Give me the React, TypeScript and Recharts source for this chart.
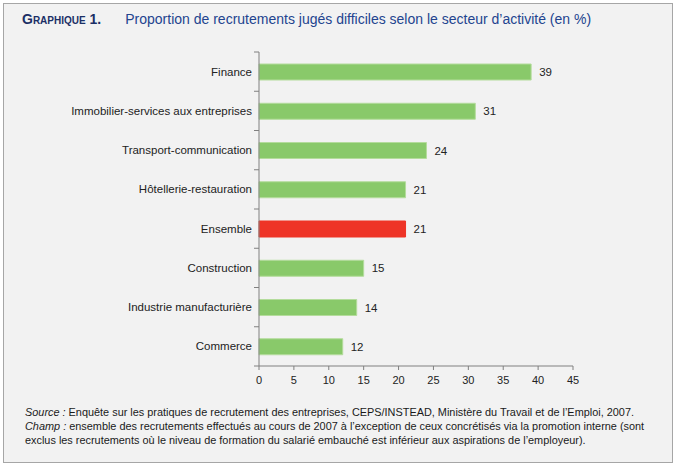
import { BarChart, Bar, XAxis, YAxis, Cell, LabelList } from "recharts";

const categories = [
  "Finance",
  "Immobilier-services aux entreprises",
  "Transport-communication",
  "Hôtellerie-restauration",
  "Ensemble",
  "Construction",
  "Industrie manufacturière",
  "Commerce",
];
const values = [39, 31, 24, 21, 21, 15, 14, 12];
const highlighted = "Ensemble";
const xTicks = [0, 5, 10, 15, 20, 25, 30, 35, 40, 45];

const data = categories.map((c, i) => ({ secteur: c, part: values[i] }));

const FONT = "'Liberation Sans', Arial, sans-serif";
const AXIS = "#808080";
const TICK_GAP = 7; // tickSize + tickMargin of the category axis

// category label, plus small tick marks on the band edges (not at the band centre)
function SecteurTick(props: any) {
  const { x, y, payload, index, visibleTicksCount } = props;
  const half = payload.offset || 0;
  const ax = x + TICK_GAP;
  const isLast = index === visibleTicksCount - 1;
  return (
    <g>
      <text
        x={x}
        y={y}
        dy="0.355em"
        textAnchor="end"
        fill="#222"
        fontSize={11.5}
        fontFamily={FONT}
      >
        {payload.value}
      </text>
      <line x1={ax - 5} x2={ax} y1={y - half} y2={y - half} stroke={AXIS} />
      {isLast && <line x1={ax - 5} x2={ax} y1={y + half} y2={y + half} stroke={AXIS} />}
    </g>
  );
}

export default function App() {
  return (
    <div
      style={{
        position: "absolute",
        left: 0,
        top: 0,
        width: 675,
        height: 465,
        background: "#fff",
        fontFamily: FONT,
      }}
    >
      <div
        style={{
          position: "absolute",
          left: 3,
          top: 3,
          width: 668,
          height: 458,
          background: "#f2f2f2",
          border: "1px solid #a6a6a6",
        }}
      />
      <div
        style={{
          position: "absolute",
          left: 22,
          top: 11,
          fontSize: 14,
          whiteSpace: "nowrap",
          color: "#23448f",
        }}
      >
        <span
          style={{
            fontWeight: "bold",
            fontVariant: "small-caps",
            fontSize: 14,
            color: "#1b2f66",
            marginRight: 24,
          }}
        >
          Graphique 1.
        </span>
        Proportion de recrutements jugés difficiles selon le secteur d’activité (en %)
      </div>

      <div style={{ position: "absolute", left: 0, top: 0 }}>
        <BarChart
          width={675}
          height={400}
          data={data}
          layout="vertical"
          margin={{ top: 52, right: 102, bottom: 14, left: 0 }}
        >
          <XAxis
            type="number"
            domain={[0, 45]}
            ticks={xTicks}
            interval={0}
            height={20}
            stroke={AXIS}
            tickSize={4}
            tickMargin={6}
            tick={{ fill: "#222", fontSize: 11, fontFamily: FONT }}
          />
          <YAxis
            type="category"
            dataKey="secteur"
            width={259}
            interval={0}
            tickLine={false}
            tickSize={6}
            tickMargin={1}
            stroke={AXIS}
            tick={<SecteurTick />}
          />
          <Bar dataKey="part" barSize={16} isAnimationActive={false}>
            {data.map((d) => (
              <Cell
                key={d.secteur}
                fill={d.secteur === highlighted ? "#ee3427" : "#89c96a"}
                stroke={d.secteur === highlighted ? "#ee3427" : "#b4dc9c"}
                strokeWidth={1}
              />
            ))}
            <LabelList
              dataKey="part"
              position="right"
              offset={8}
              style={{ fill: "#222", fontSize: 11.5, fontFamily: FONT }}
            />
          </Bar>
        </BarChart>
      </div>

      <div
        style={{
          position: "absolute",
          left: 25,
          top: 405,
          width: 645,
          fontSize: 10.9,
          lineHeight: "14px",
          color: "#1a1a1a",
          whiteSpace: "nowrap",
        }}
      >
        <i>Source :</i> Enquête sur les pratiques de recrutement des entreprises, CEPS/INSTEAD, Ministère du Travail et de l’Emploi, 2007.
        <br />
        <i>Champ :</i> ensemble des recrutements effectués au cours de 2007 à l’exception de ceux concrétisés via la promotion interne (sont
        <br />
        exclus les recrutements où le niveau de formation du salarié embauché est inférieur aux aspirations de l’employeur).
      </div>
    </div>
  );
}
